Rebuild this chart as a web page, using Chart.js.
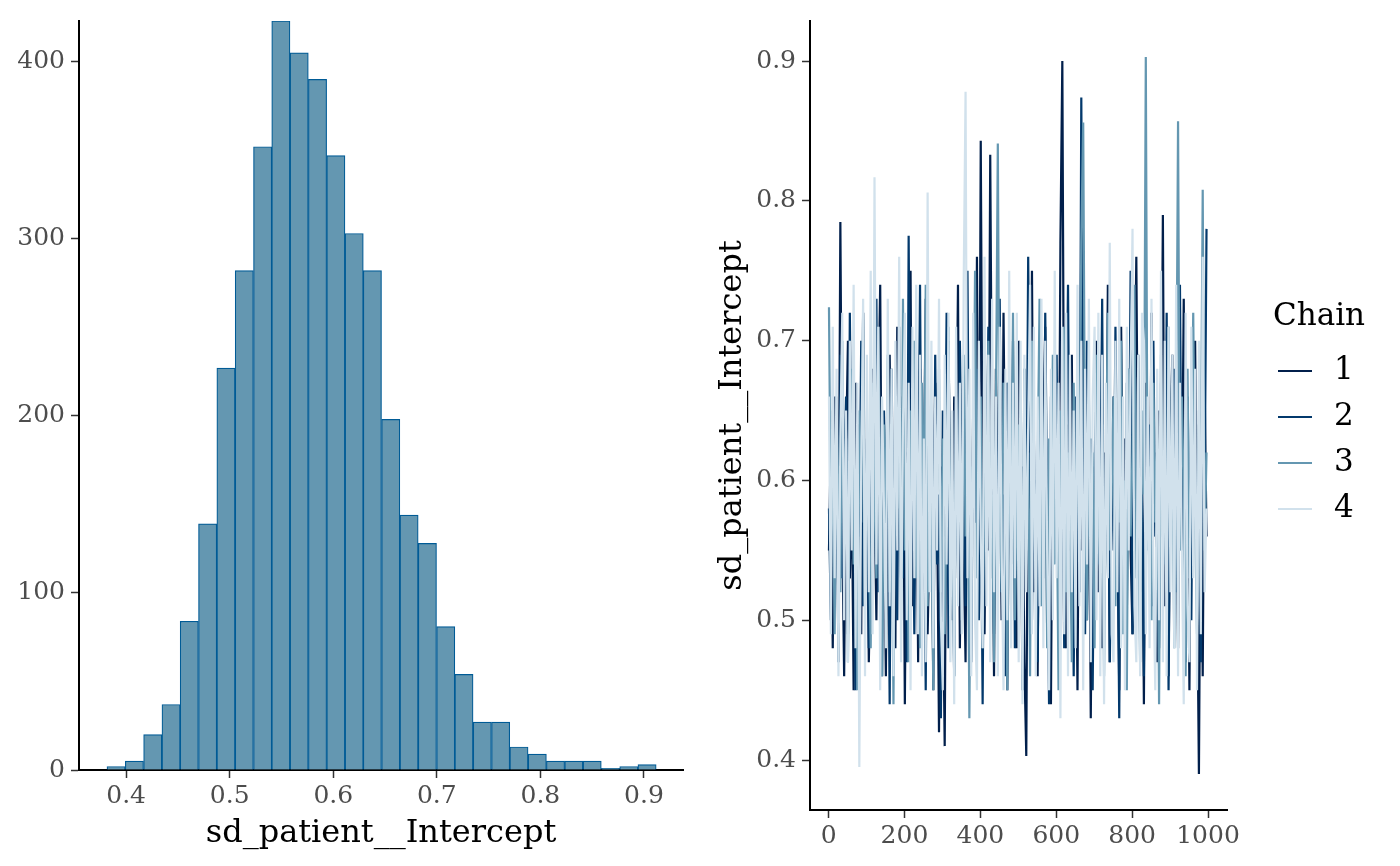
<!DOCTYPE html>
<html>
<head>
<meta charset="utf-8">
<script src="https://cdn.jsdelivr.net/npm/chart.js@4.4.1/dist/chart.umd.min.js"></script>
<style>
  html, body { margin: 0; padding: 0; background: #fff; }
  body { width: 1400px; height: 866px; position: relative; overflow: hidden; font-family: 'DejaVu Serif', serif; }
  .panel { position: absolute; top: 0; width: 700px; height: 866px; }
  #hist-wrap { left: 0; }
  #trace-wrap { left: 700px; }
  #legend { position: absolute; left: 1273px; top: 296px; color: #000; }
  #legend .title { font-size: 31px; line-height: 37px; height: 37px; }
  #legend ul { list-style: none; margin: 12px 0 0 0; padding: 0; }
  #legend li { height: 46px; line-height: 46px; font-size: 31px; white-space: nowrap; }
  #legend .swatch { display: inline-block; width: 34px; height: 2px; margin: 0 22px 0 5px; vertical-align: middle; }
</style>
</head>
<body>
<div class="panel" id="hist-wrap"><canvas id="hist-chart" width="700" height="866"></canvas></div>
<div class="panel" id="trace-wrap"><canvas id="trace-chart" width="700" height="866"></canvas></div>
<div id="legend"></div>
<script>
// histogram: 30 bins of sd_patient__Intercept (bin centres + counts)
const binCenters = [0.3903, 0.4080, 0.4257, 0.4434, 0.4610, 0.4787, 0.4964, 0.5141, 0.5318, 0.5494,
                    0.5671, 0.5848, 0.6025, 0.6202, 0.6378, 0.6555, 0.6732, 0.6909, 0.7086, 0.7262,
                    0.7439, 0.7616, 0.7793, 0.7970, 0.8146, 0.8323, 0.8500, 0.8677, 0.8854, 0.9030];
const binCounts = [2, 5, 20, 37, 84, 139, 227, 282, 352, 423,
                   405, 390, 347, 303, 282, 198, 144, 128, 81, 54,
                   27, 27, 13, 9, 5, 5, 5, 1, 2, 3];
const histTicksY = [0, 100, 200, 300, 400];
const histTicksX = [0.4, 0.5, 0.6, 0.7, 0.8, 0.9];

// trace plot: draws read every 5th iteration
const STEP = 5;
const chain1 = [0.55,0.63,0.48,0.66,0.59,0.51,0.785,0.57,0.46,0.62,
  0.70,0.53,0.60,0.45,0.67,0.58,0.64,0.49,0.72,0.56,
  0.61,0.47,0.54,0.68,0.59,0.50,0.65,0.74,0.52,0.57,
  0.46,0.63,0.69,0.55,0.60,0.48,0.71,0.58,0.53,0.66,
  0.44,0.62,0.57,0.75,0.51,0.59,0.64,0.47,0.68,0.55,
  0.60,0.73,0.49,0.56,0.62,0.45,0.67,0.58,0.42,0.61,
  0.53,0.41,0.64,0.70,0.57,0.50,0.66,0.59,0.74,0.48,
  0.62,0.55,0.47,0.69,0.60,0.52,0.65,0.57,0.76,0.51,
  0.843,0.58,0.49,0.63,0.55,0.833,0.61,0.46,0.68,0.56,
  0.64,0.50,0.72,0.58,0.45,0.62,0.54,0.67,0.59,0.48,
  0.70,0.56,0.61,0.47,0.403,0.65,0.58,0.75,0.52,0.60,
  0.46,0.68,0.55,0.63,0.71,0.49,0.59,0.44,0.66,0.57,
  0.62,0.53,0.77,0.900,0.58,0.48,0.64,0.56,0.69,0.51,
  0.60,0.45,0.67,0.55,0.73,0.59,0.50,0.63,0.43,0.61,
  0.57,0.70,0.52,0.65,0.48,0.62,0.56,0.74,0.47,0.60,
  0.66,0.54,0.59,0.45,0.71,0.58,0.63,0.50,0.68,0.55,
  0.49,0.64,0.76,0.57,0.52,0.61,0.44,0.67,0.59,0.53,
  0.72,0.56,0.62,0.47,0.65,0.58,0.79,0.51,0.60,0.46,
  0.63,0.69,0.55,0.59,0.48,0.66,0.57,0.73,0.52,0.61,
  0.45,0.64,0.58,0.70,0.54,0.390,0.62,0.46,0.67,0.56];
const chain2 = [0.58,0.50,0.65,0.55,0.61,0.47,0.69,0.53,0.60,0.66,
  0.49,0.72,0.57,0.62,0.45,0.64,0.56,0.70,0.51,0.59,
  0.63,0.48,0.67,0.54,0.60,0.73,0.52,0.58,0.46,0.65,
  0.57,0.61,0.44,0.68,0.55,0.62,0.50,0.71,0.59,0.53,
  0.66,0.47,0.775,0.56,0.61,0.49,0.64,0.58,0.74,0.52,
  0.60,0.45,0.67,0.57,0.63,0.50,0.69,0.54,0.59,0.43,
  0.65,0.56,0.72,0.48,0.61,0.58,0.46,0.66,0.53,0.70,
  0.59,0.62,0.51,0.75,0.55,0.47,0.64,0.57,0.68,0.50,
  0.61,0.44,0.66,0.58,0.71,0.53,0.60,0.49,0.63,0.56,
  0.73,0.52,0.59,0.46,0.67,0.62,0.55,0.70,0.48,0.64,
  0.57,0.61,0.45,0.68,0.54,0.76,0.59,0.50,0.63,0.56,
  0.47,0.65,0.60,0.53,0.72,0.58,0.44,0.66,0.55,0.62,
  0.69,0.51,0.57,0.64,0.48,0.61,0.74,0.55,0.59,0.46,
  0.66,0.58,0.52,0.874,0.60,0.49,0.70,0.56,0.63,0.45,
  0.61,0.68,0.54,0.59,0.73,0.50,0.57,0.64,0.47,0.62,
  0.55,0.71,0.58,0.43,0.65,0.60,0.52,0.67,0.56,0.75,
  0.49,0.62,0.57,0.69,0.53,0.60,0.46,0.66,0.58,0.64,
  0.51,0.70,0.56,0.61,0.48,0.67,0.59,0.54,0.72,0.45,
  0.63,0.57,0.68,0.52,0.60,0.74,0.55,0.62,0.47,0.66,
  0.58,0.50,0.69,0.61,0.54,0.64,0.47,0.71,0.59,0.78];
const chain3 = [0.724,0.56,0.61,0.49,0.66,0.58,0.52,0.70,0.55,0.63,
  0.47,0.60,0.68,0.54,0.59,0.45,0.65,0.57,0.72,0.51,
  0.62,0.56,0.48,0.67,0.59,0.53,0.71,0.60,0.46,0.64,
  0.57,0.69,0.52,0.61,0.44,0.66,0.58,0.63,0.50,0.73,
  0.55,0.60,0.47,0.65,0.59,0.70,0.53,0.62,0.48,0.67,
  0.56,0.74,0.51,0.61,0.57,0.45,0.64,0.59,0.68,0.52,
  0.63,0.49,0.58,0.71,0.55,0.60,0.46,0.66,0.57,0.62,
  0.50,0.69,0.56,0.64,0.43,0.61,0.58,0.75,0.53,0.60,
  0.66,0.48,0.62,0.57,0.70,0.54,0.59,0.47,0.65,0.841,
  0.58,0.52,0.67,0.61,0.45,0.63,0.56,0.72,0.50,0.60,
  0.64,0.57,0.49,0.68,0.55,0.62,0.46,0.70,0.58,0.53,
  0.61,0.73,0.51,0.59,0.66,0.48,0.63,0.56,0.69,0.54,
  0.60,0.45,0.65,0.58,0.71,0.52,0.62,0.57,0.47,0.67,
  0.55,0.63,0.59,0.77,0.856,0.60,0.50,0.66,0.56,0.62,
  0.48,0.69,0.58,0.53,0.64,0.46,0.61,0.72,0.55,0.59,
  0.66,0.51,0.63,0.57,0.70,0.49,0.60,0.45,0.68,0.56,
  0.62,0.74,0.53,0.58,0.47,0.65,0.59,0.903,0.55,0.61,
  0.50,0.67,0.57,0.63,0.44,0.69,0.56,0.60,0.52,0.71,
  0.58,0.64,0.48,0.62,0.857,0.55,0.66,0.59,0.46,0.68,
  0.53,0.61,0.72,0.57,0.49,0.65,0.60,0.808,0.55,0.62];
const chain4 = [0.66,0.49,0.71,0.53,0.68,0.46,0.63,0.72,0.50,0.65,
  0.47,0.70,0.55,0.74,0.48,0.67,0.395,0.61,0.73,0.46,
  0.69,0.52,0.75,0.49,0.817,0.54,0.71,0.45,0.66,0.58,
  0.48,0.73,0.51,0.68,0.46,0.70,0.55,0.76,0.47,0.64,
  0.72,0.50,0.67,0.45,0.71,0.53,0.74,0.49,0.69,0.46,
  0.63,0.47,0.806,0.52,0.70,0.48,0.66,0.55,0.73,0.50,
  0.45,0.69,0.54,0.72,0.47,0.65,0.44,0.71,0.51,0.67,
  0.49,0.74,0.878,0.53,0.68,0.46,0.72,0.50,0.45,0.70,
  0.56,0.48,0.76,0.51,0.69,0.47,0.73,0.52,0.66,0.46,
  0.71,0.55,0.45,0.68,0.50,0.75,0.48,0.67,0.53,0.72,
  0.47,0.70,0.44,0.69,0.52,0.64,0.74,0.49,0.71,0.46,
  0.66,0.51,0.73,0.48,0.70,0.55,0.45,0.68,0.50,0.75,
  0.53,0.67,0.43,0.71,0.49,0.72,0.46,0.69,0.52,0.65,
  0.48,0.74,0.51,0.70,0.45,0.68,0.54,0.73,0.47,0.66,
  0.71,0.50,0.72,0.46,0.69,0.44,0.67,0.53,0.77,0.49,
  0.47,0.70,0.52,0.73,0.48,0.66,0.45,0.71,0.55,0.68,
  0.78,0.51,0.47,0.69,0.46,0.72,0.70,0.49,0.66,0.48,
  0.73,0.53,0.45,0.68,0.50,0.75,0.47,0.70,0.46,0.71,
  0.52,0.69,0.48,0.74,0.46,0.67,0.55,0.44,0.72,0.51,
  0.47,0.71,0.53,0.68,0.45,0.70,0.49,0.76,0.52,0.58];
const chainNames = ['1', '2', '3', '4'];
const chainColors = ['#011f4b', '#03396c', '#6497b1', '#d1e1ec'];
const traceTicksX = [0, 200, 400, 600, 800, 1000];
const traceTicksY = [0.4, 0.5, 0.6, 0.7, 0.8, 0.9];

const paramName = 'sd_patient__Intercept';

Chart.defaults.font.family = "'DejaVu Serif', serif";
Chart.defaults.color = '#4d4d4d';

const tickFont = { size: 25 };
const titleFont = { size: 32 };

function axisStyle(extra) {
    return Object.assign({
        offset: false,
        grid: { display: true, offset: false, drawOnChartArea: false, drawTicks: true, tickLength: 8, tickColor: '#333333', tickWidth: 1.5 },
        border: { display: true, color: '#000000', width: 2 },
    }, extra);
}

// ---------- histogram ----------
new Chart(document.getElementById('hist-chart'), {
    type: 'bar',
    data: {
        datasets: [{
            data: binCenters.map((c, i) => ({ x: c, y: binCounts[i] })),
            backgroundColor: '#6497b1',
            borderColor: '#005b96',
            borderWidth: 1.2,
            barPercentage: 1,
            categoryPercentage: 1,
        }]
    },
    options: {
        responsive: false,
        animation: false,
        layout: { padding: { top: 16, right: 17, left: 0, bottom: 0 } },
        plugins: { legend: { display: false }, tooltip: { enabled: false } },
        scales: {
            x: axisStyle({
                type: 'linear',
                min: 0.3545,
                max: 0.9377,
                afterFit: s => { s.height = 96; },
                afterBuildTicks: s => { s.ticks = histTicksX.map(v => ({ value: v })); },
                ticks: { font: tickFont, padding: 3, maxRotation: 0, callback: v => v.toFixed(1) },
                title: { display: true, text: paramName, color: '#000', font: titleFont, padding: { top: 0, bottom: 13 } },
            }),
            y: axisStyle({
                type: 'linear',
                min: 0,
                max: 423,
                afterFit: s => { s.width = 79; },
                afterBuildTicks: s => { s.ticks = histTicksY.map(v => ({ value: v })); },
                ticks: { font: tickFont, padding: 6 },
            }),
        }
    }
});

// ---------- trace plot ----------
const chains = [chain1, chain2, chain3, chain4];
const traceChart = new Chart(document.getElementById('trace-chart'), {
    type: 'line',
    data: {
        datasets: chains.map((vals, k) => ({
            label: chainNames[k],
            data: vals.map((v, i) => ({ x: 1 + i * STEP, y: v })),
            borderColor: chainColors[k],
            backgroundColor: chainColors[k],
            borderWidth: 2.2,
            pointRadius: 0,
            fill: false,
            order: chains.length - k, // lowest order is drawn last: chain 4 on top, like ggplot
        }))
    },
    options: {
        responsive: false,
        animation: false,
        layout: { padding: { top: 18, right: 173, left: 0, bottom: 0 } },
        plugins: { legend: { display: false }, tooltip: { enabled: false } },
        scales: {
            x: axisStyle({
                type: 'linear',
                min: -49,
                max: 1050,
                afterFit: s => { s.height = 56; },
                afterBuildTicks: s => { s.ticks = traceTicksX.map(v => ({ value: v })); },
                ticks: { font: tickFont, padding: 3, maxRotation: 0, callback: v => String(v) },
            }),
            y: axisStyle({
                type: 'linear',
                min: 0.3643,
                max: 0.9287,
                afterFit: s => { s.width = 110; },
                afterBuildTicks: s => { s.ticks = traceTicksY.map(v => ({ value: v })); },
                ticks: { font: tickFont, padding: 6, callback: v => v.toFixed(1) },
                title: { display: true, text: paramName, color: '#000', font: titleFont, padding: { top: 13, bottom: 0 } },
            }),
        }
    }
});

// ---------- legend (html, from chart's own legend items) ----------
const legendEl = document.getElementById('legend');
const items = Chart.defaults.plugins.legend.labels.generateLabels(traceChart)
    .sort((a, b) => a.datasetIndex - b.datasetIndex);
legendEl.innerHTML = '<div class="title">Chain</div><ul>' +
    items.map(it => `<li><span class="swatch" style="background:${it.strokeStyle}"></span>${it.text}</li>`).join('') +
    '</ul>';
</script>
</body>
</html>
